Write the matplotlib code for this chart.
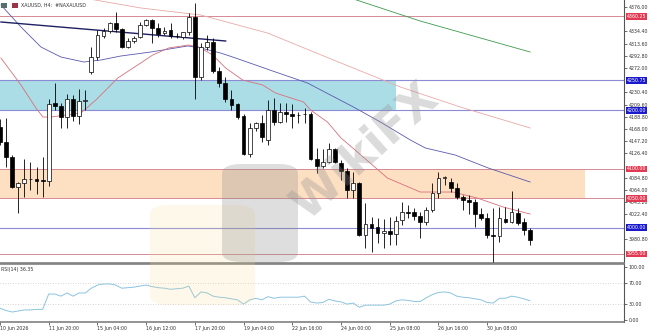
import matplotlib
matplotlib.use("Agg")
import matplotlib.pyplot as plt
from matplotlib.patches import Rectangle, FancyBboxPatch
from matplotlib.transforms import blended_transform_factory
import numpy as np

# ---------------- data ----------------
opens = [4172, 4146, 4120, 4069, 4076, 4083, 4082, 4081, 4079, 4212,
         4207, 4188, 4219, 4190, 4216, 4265, 4291, 4326, 4335, 4349,
         4338, 4308, 4318, 4325, 4345, 4354, 4340, 4332, 4337, 4327,
         4325, 4333, 4359, 4257, 4308, 4316, 4267, 4246, 4219, 4210,
         4190, 4125, 4170, 4178, 4149, 4200, 4180, 4197, 4194, 4191,
         4193, 4194, 4117, 4105, 4112, 4134, 4110, 4096, 4064, 4076,
         3987, 4006, 4001, 3991, 3994, 3989, 4013, 4026, 4026, 4020,
         4009, 4030, 4059, 4084, 4078, 4068, 4052, 4047, 4044, 4023,
         4016, 3987, 3985, 4015, 4009, 4025, 4009, 3996]
highs = [4185, 4187, 4124, 4078, 4117, 4112, 4103, 4120, 4219, 4246,
         4212, 4228, 4226, 4236, 4234, 4308, 4337, 4340, 4350, 4367,
         4340, 4323, 4326, 4350, 4356, 4356, 4349, 4342, 4349, 4332,
         4334, 4366, 4383, 4315, 4328, 4323, 4274, 4257, 4234, 4212,
         4193, 4178, 4180, 4192, 4217, 4221, 4212, 4212, 4210, 4197,
         4204, 4197, 4136, 4134, 4144, 4136, 4115, 4101, 4095, 4078,
         4042, 4018, 4016, 4015, 4018, 4020, 4043, 4038, 4033, 4026,
         4035, 4076, 4095, 4088, 4084, 4076, 4055, 4055, 4049, 4033,
         4025, 4033, 4035, 4035, 4062, 4033, 4016, 4000]
lows = [4140, 4103, 4067, 4025, 4052, 4064, 4057, 4052, 4071, 4200,
        4170, 4170, 4182, 4177, 4200, 4262, 4286, 4323, 4332, 4333,
        4306, 4306, 4314, 4323, 4343, 4314, 4325, 4328, 4323, 4323,
        4321, 4328, 4219, 4251, 4303, 4263, 4240, 4214, 4200, 4185,
        4124, 4120, 4165, 4146, 4141, 4175, 4178, 4180, 4170, 4178,
        4178, 4115, 4093, 4101, 4110, 4110, 4081, 4050, 4050, 3985,
        3965, 3958, 3974, 3965, 3970, 3970, 4004, 4016, 4013, 3982,
        4004, 4026, 4050, 4073, 4060, 4048, 4030, 4023, 4001, 4013,
        3982, 3941, 3975, 4008, 4008, 4004, 3987, 3970]
closes = [4146, 4120, 4069, 4076, 4083, 4082, 4080, 4079, 4211, 4207,
          4188, 4219, 4190, 4216, 4217, 4291, 4328, 4335, 4349, 4338,
          4308, 4318, 4323, 4345, 4354, 4340, 4330, 4335, 4327, 4326,
          4333, 4359, 4257, 4308, 4316, 4267, 4246, 4219, 4209, 4188,
          4125, 4170, 4178, 4154, 4200, 4180, 4197, 4193, 4190, 4192,
          4194, 4117, 4105, 4112, 4134, 4112, 4096, 4064, 4076, 3987,
          4006, 3999, 3991, 3994, 3989, 4011, 4026, 4025, 4020, 4009,
          4030, 4059, 4084, 4086, 4067, 4052, 4047, 4044, 4023, 4016,
          3987, 3985, 4016, 4009, 4026, 4008, 3996, 3979]
rsi = [22, 18, 15, 17, 19, 19, 20, 20, 49, 49,
       45, 51, 45, 51, 51, 60, 66, 68, 68, 66,
       60, 61, 62, 64, 66, 63, 61, 60, 58, 59,
       60, 64, 42, 53, 51, 45, 43, 42, 40, 38,
       30, 38, 41, 38, 44, 41, 43, 43, 43, 43,
       45, 34, 32, 33, 39, 36, 34, 30, 32, 24,
       28, 28, 28, 28, 30, 36, 38, 37, 35, 35,
       42, 48, 52, 53, 51, 45, 43, 42, 40, 38,
       33, 32, 41, 41, 45, 43, 40, 36.35]

# moving averages (bar position, price)
ma_fast_x = [0.16, 3.44, 5.90, 7.05, 8.36, 13.28, 15.74, 19.34, 23.11, 25.08, 27.70,
             30.98, 32.62, 34.92, 37.05, 39.84, 43.11, 45.25, 49.84, 50.98, 53.77,
             56.0, 58.69, 63.61, 69.0, 74.4, 78.36, 82.6, 87.05]
ma_fast_y = [4289.0, 4243.0, 4203.8, 4188.4, 4188.4, 4195.2, 4217.4, 4254.9, 4280.5,
             4294.1, 4306.1, 4311.2, 4307.8, 4294.1, 4272.0, 4251.5, 4243.0, 4229.3,
             4214.0, 4200.4, 4179.9, 4152.6, 4128.7, 4084.4, 4060.5, 4060.5, 4050.3,
             4035.0, 4023.0]
ma_mid_x = [0.16, 3.44, 6.72, 10.0, 13.77, 16.56, 19.84, 24.75, 30.82, 32.95, 36.23,
            38.69, 45.25, 50.49, 54.26, 58.03, 62.46, 67.38, 69.84, 74.75, 80.16, 87.05]
ma_mid_y = [4379.4, 4341.9, 4307.8, 4290.7, 4282.2, 4285.6, 4292.4, 4299.2, 4309.5,
            4306.1, 4297.5, 4289.0, 4265.1, 4246.4, 4225.9, 4205.5, 4179.9, 4149.2,
            4135.6, 4123.6, 4101.5, 4077.6]
ma_slow_x = [10.0, 23.11, 32.95, 43.93, 54.75, 65.74, 75.57, 87.05]
ma_slow_y = [4398.1, 4374.3, 4362.3, 4331.6, 4285.6, 4239.6, 4205.5, 4169.7]
ma_long_x = [57.54, 69.0, 87.05]
ma_long_y = [4391.3, 4352.1, 4299.2]
trend_x = [0.16, 37.05]
trend_y = [4350.4, 4318.0]

red_levels = [4360.25, 4100.00, 4050.00, 3955.00]
blue_levels = [4250.75, 4200.00, 4000.00]
price_ticks = [3980.80, 4022.40, 4043.20, 4064.00, 4084.80,
               4126.40, 4147.20, 4168.00, 4188.80, 4209.60, 4230.40, 4272.00,
               4292.80, 4313.60, 4334.40, 4376.00]
x_tick_labels = ["10 Jun 2026", "11 Jun 20:00", "15 Jun 04:00", "16 Jun 12:00",
                 "17 Jun 20:00", "19 Jun 04:00", "22 Jun 16:00", "24 Jun 00:00",
                 "25 Jun 08:00", "26 Jun 16:00", "30 Jun 08:00"]

# ---------------- figure ----------------
W, H = 650, 333
fig = plt.figure(figsize=(W / 100, H / 100), dpi=100)
fig.patch.set_facecolor("white")


def px_rect(x0, y0, x1, y1):
    return [x0 / W, 1 - y1 / H, (x1 - x0) / W, (y1 - y0) / H]


ax = fig.add_axes(px_rect(0, 0, 624, 263))
rx = fig.add_axes(px_rect(0, 264, 624, 322), sharex=ax)

FS = 3.4
TXT = "#333333"

o = np.array(opens, float)
h = np.array(highs, float)
lo = np.array(lows, float)
c = np.array(closes, float)
idx = np.arange(len(o))

ax.set_xlim(1 / 6.1, 625 / 6.1)
ax.set_ylim(3939.5, 4387.9)

# zones
ax.add_patch(Rectangle((-1, 4200.0), 66.1, 50.75, facecolor="#abdde6",
                       edgecolor="none", zorder=0.5))
ax.add_patch(Rectangle((-1, 4050.0), 97.1, 50.0, facecolor="#fddfc2",
                       edgecolor="none", zorder=0.5))

for lv in red_levels:
    ax.axhline(lv, color="#d58a95", lw=0.7, zorder=1)
for lv in blue_levels:
    ax.axhline(lv, color="#8c8cd6", lw=0.8, zorder=1)

# moving averages and trend line
ax.plot(ma_long_x, ma_long_y, color="#3c9a4c", lw=0.6, zorder=2)
ax.plot(ma_slow_x, ma_slow_y, color="#eaa9a9", lw=0.6, zorder=2)
ax.plot(ma_mid_x, ma_mid_y, color="#5a5ab0", lw=0.6, zorder=2)
ax.plot(ma_fast_x, ma_fast_y, color="#d8707c", lw=0.6, zorder=2)
ax.plot(trend_x, trend_y, color="#1f2060", lw=1.0, zorder=2.2)

# candles
up = c >= o
ax.vlines(idx, lo, h, color="black", lw=0.6, zorder=3)
body_bottom = np.minimum(o, c)
body_h = np.maximum(np.abs(c - o), 0.9)
ax.bar(idx, body_h, bottom=body_bottom, width=0.62,
       color=np.where(up, "white", "black"), edgecolor="black", lw=0.5, zorder=4)

# axis styling (main)
ax.yaxis.tick_right()
ax.set_yticks(price_ticks)
ax.set_yticklabels([f"{v:.2f}" for v in price_ticks])
ax.tick_params(axis="y", labelsize=FS, length=2, width=0.5, pad=1.5, colors=TXT)
ax.tick_params(axis="x", labelbottom=False, length=0)
for s in ("left", "top"):
    ax.spines[s].set_visible(False)
ax.spines["right"].set_color("#555555")
ax.spines["right"].set_linewidth(0.8)
ax.spines["bottom"].set_color("#808080")
ax.spines["bottom"].set_linewidth(1.2)

tr = blended_transform_factory(ax.transAxes, ax.transData)
for lv in red_levels:
    ax.text(1.004, lv, f"{lv:.2f}", transform=tr, fontsize=FS, color="white",
            va="center", ha="left", clip_on=False, zorder=10,
            bbox=dict(boxstyle="square,pad=0.18", fc="#e23a52", ec="none"))
for lv in blue_levels:
    ax.text(1.004, lv, f"{lv:.2f}", transform=tr, fontsize=FS, color="white",
            va="center", ha="left", clip_on=False, zorder=10,
            bbox=dict(boxstyle="square,pad=0.18", fc="#1a1acc", ec="none"))

# ---------------- RSI panel ----------------
rx.set_ylim(-3.8, 105.7)
for lv in (70, 30):
    rx.axhline(lv, color="#c8c8c8", lw=0.6, ls=(0, (1, 2)))
rx.plot(idx, rsi, color="#8cc3df", lw=0.7)
rx.yaxis.tick_right()
rx.set_yticks([0, 30, 70, 100])
rx.set_yticklabels(["0.00", "30.00", "70.00", "100.00"])
rx.tick_params(axis="y", labelsize=FS, length=2, width=0.5, pad=1.5, colors=TXT)
rx.set_xticks(range(0, 8 * len(x_tick_labels), 8))
rx.set_xticklabels(x_tick_labels)
for t in rx.get_xticklabels():
    t.set_ha("left")
rx.tick_params(axis="x", labelsize=FS, length=2, width=0.5, pad=1.2, colors=TXT)
rx.spines["left"].set_visible(False)
rx.spines["top"].set_color("#808080")
rx.spines["top"].set_linewidth(1.2)
rx.spines["bottom"].set_color("#808080")
rx.spines["bottom"].set_linewidth(1.2)
rx.spines["right"].set_color("#555555")
rx.spines["right"].set_linewidth(0.8)
rx.text(0.002, 0.95, f"RSI(14) {rsi[-1]:.2f}", transform=rx.transAxes,
        fontsize=FS, color=TXT, va="top", ha="left")

# ---------------- header ----------------
fig.patches.append(Rectangle((1 / W, 1 - 7.5 / H), 6 / W, 5 / H, transform=fig.transFigure,
                             facecolor="#56706c", edgecolor="none", zorder=5))
fig.patches.append(Rectangle((12 / W, 1 - 7.5 / H), 6 / W, 5 / H, transform=fig.transFigure,
                             facecolor="#9c3448", edgecolor="none", zorder=5))
fig.text(21 / W, 1 - 5 / H, "XAUUSD, H4:  #NAXAUUSD", fontsize=FS, color=TXT,
         va="center", ha="left")

# ---------------- watermark ----------------
fig.patches.append(FancyBboxPatch((150 / W, 1 - 305 / H), 105 / W, 100 / H,
                                  boxstyle="round,pad=0.0,rounding_size=0.03",
                                  transform=fig.transFigure, facecolor="#f5dc9a",
                                  edgecolor="none", alpha=0.2, zorder=6))
fig.patches.append(FancyBboxPatch((222 / W, 1 - 262 / H), 76 / W, 98 / H,
                                  boxstyle="round,pad=0.0,rounding_size=0.03",
                                  transform=fig.transFigure, facecolor="#8a8a8a",
                                  edgecolor="none", alpha=0.28, zorder=6))
fig.text(366 / W, 1 - 152 / H, "WikiFX", fontsize=33, rotation=42, color="#909090",
         alpha=0.32, weight="bold", ha="center", va="center", zorder=7)

fig.savefig("out.png", dpi=100, facecolor="white")
